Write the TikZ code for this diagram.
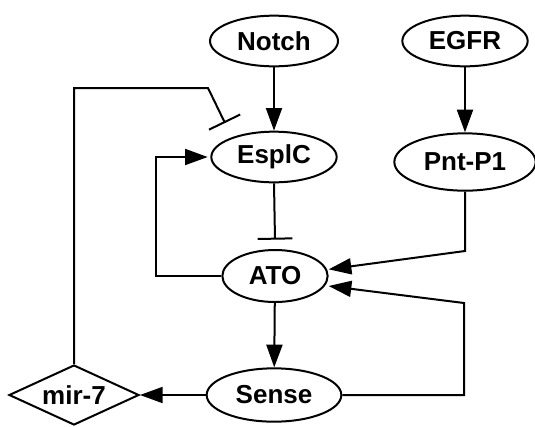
\documentclass[tikz,border=0pt]{standalone}
\usepackage{fontspec}
\setmainfont{Liberation Sans}
\usetikzlibrary{shapes.geometric,arrows.meta}
\begin{document}
\begin{tikzpicture}[x=0.75pt,y=-0.75pt,
  every node/.style={font=\fontsize{19.5}{23}\selectfont\bfseries},
  oval/.style={draw,ellipse,line width=1.5pt,inner sep=0pt},
  dia/.style={draw,diamond,line width=1.5pt,inner sep=0pt,shape aspect=2.17},
  act/.style={line width=1.5pt,-{Triangle[length=17pt,width=12pt]}},
  inh/.style={line width=1.5pt,-{Bar[width=26pt]}},
  link/.style={line width=1.5pt}]
\useasboundingbox (0,0) rectangle (535,426);
\node[oval,minimum width=96pt,minimum height=38pt] (notch) at (274,41) {Notch};
\node[oval,minimum width=94pt,minimum height=38pt] (egfr) at (465,41) {EGFR};
\node[oval,minimum width=94pt,minimum height=38pt] (esplc) at (274,157) {EsplC};
\node[oval,minimum width=106pt,minimum height=43pt] (pnt) at (465,162) {Pnt-P1};
\node[oval,minimum width=79pt,minimum height=39pt] (ato) at (275,276) {ATO};
\node[oval,minimum width=101pt,minimum height=40pt] (sense) at (274,395) {Sense};
\node[dia,minimum width=97.5pt,minimum height=45pt] (mir) at (74,395) {mir-7};
\coordinate (atoA) at ([yshift=5pt]ato.east);
\coordinate (atoB) at ([yshift=-7.5pt]ato.east);
\coordinate (pntC) at (465,251);
\coordinate (senseC) at (464,303);
\coordinate (mirC1) at (74,88);
\coordinate (mirC2) at (208,88);
\coordinate (mirEnd) at (225,123);
\coordinate (atoL) at (156,276);
\draw[act] (notch) -- (esplc);
\draw[act] (egfr) -- (pnt);
\draw[inh] (esplc.south) -- ([yshift=7pt]ato.north);
\draw[act] (pnt.south) -- (pntC) -- (atoA);
\draw[act] (sense.east) -- (sense.east -| senseC) -- (senseC) -- (atoB);
\draw[act] (ato.west) -- (atoL) |- ([xshift=-2pt]esplc.west);
\draw[act] (ato) -- (sense);
\draw[act] (sense) -- (mir);
\draw[inh] (mir.north) -- (mirC1) -- (mirC2) -- (mirEnd);
\end{tikzpicture}
\end{document}
